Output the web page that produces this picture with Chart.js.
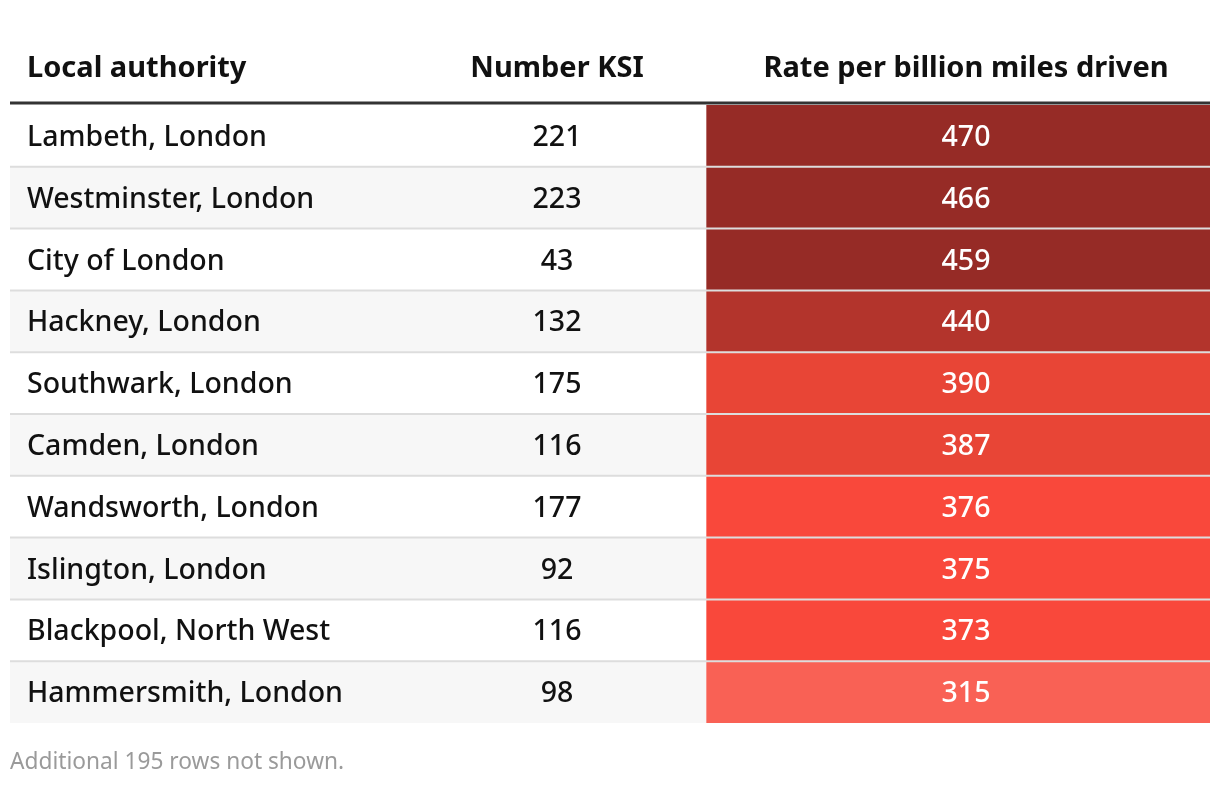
<!DOCTYPE html>
<html><head><meta charset="utf-8">
<script src="https://cdn.jsdelivr.net/npm/chart.js@4/dist/chart.umd.min.js"></script>
<style>html,body{margin:0;padding:0;background:#fff}canvas{display:block}</style>
</head><body>
<canvas id="c" width="1220" height="788"></canvas>
<script>
const headers = ["Local authority", "Number KSI", "Rate per billion miles driven"];
const authorities = ["Lambeth, London","Westminster, London","City of London","Hackney, London","Southwark, London","Camden, London","Wandsworth, London","Islington, London","Blackpool, North West","Hammersmith, London"];
const numberKSI = [221,223,43,132,175,116,177,92,116,98];
const rates = [470,466,459,440,390,387,376,375,373,315];
const footnote = "Additional 195 rows not shown.";

// layout (x scale units = pixels inside chart area)
const colEdges = [0, 398, 696, 1200];
function rateColor(v){
  if (v >= 450) return "#962b26";
  if (v >= 420) return "#b3342c";
  if (v >= 380) return "#e84536";
  if (v >= 350) return "#f9483b";
  return "#f96155";
}
const FONT = '"Noto Sans", "Open Sans", sans-serif';

const tablePlugin = {
  id: 'tableText',
  afterDatasetsDraw(chart){
    const ctx = chart.ctx, x = chart.scales.x, y = chart.scales.y, ca = chart.chartArea;
    const step = y.getPixelForValue(1) - y.getPixelForValue(0);
    ctx.save();
    // row separators
    ctx.strokeStyle = '#dddddd'; ctx.lineWidth = 2;
    for (let i = 0; i < authorities.length - 1; i++){
      const yy = y.getPixelForValue(i) + step/2;
      ctx.beginPath(); ctx.moveTo(ca.left, yy); ctx.lineTo(ca.right, yy); ctx.stroke();
    }
    // header rule
    ctx.strokeStyle = '#333333'; ctx.lineWidth = 3;
    ctx.beginPath(); ctx.moveTo(ca.left, ca.top - 2); ctx.lineTo(ca.right, ca.top - 2); ctx.stroke();

    const c1 = x.getPixelForValue(colEdges[0]) + 17;
    const c2 = (x.getPixelForValue(colEdges[1]) + x.getPixelForValue(colEdges[2]))/2;
    const c3 = (x.getPixelForValue(colEdges[2]) + x.getPixelForValue(colEdges[3]))/2 + 8;
    ctx.textBaseline = 'middle';
    // headers
    ctx.fillStyle = '#111';
    ctx.font = 'bold 29px ' + FONT;
    const hy = ca.top - 36;
    ctx.textAlign = 'left'; ctx.fillText(headers[0], c1, hy);
    ctx.textAlign = 'center'; ctx.fillText(headers[1], c2, hy);
    ctx.fillText(headers[2], c3, hy);
    // rows
    ctx.font = '500 28.5px ' + FONT;
    authorities.forEach((a, i) => {
      const yy = y.getPixelForValue(i) + 2;
      ctx.fillStyle = '#111';
      ctx.textAlign = 'left'; ctx.fillText(a, c1, yy);
      ctx.textAlign = 'center'; ctx.fillText(String(numberKSI[i]), c2, yy);
      ctx.fillStyle = '#ffffff';
      ctx.fillText(String(rates[i]), c3, yy);
    });
    // footnote
    ctx.fillStyle = '#9a9a9a';
    ctx.font = '22.7px ' + FONT;
    ctx.textAlign = 'left';
    ctx.fillText(footnote, ca.left, ca.bottom + 40);
    ctx.restore();
  }
};

new Chart(document.getElementById('c'), {
  type: 'bar',
  data: {
    labels: authorities,
    datasets: [
      {
        label: 'rows',
        data: authorities.map(() => [colEdges[0], colEdges[2]]),
        backgroundColor: authorities.map((_, i) => i % 2 ? '#f7f7f7' : '#ffffff'),
        barPercentage: 1, categoryPercentage: 1, grouped: false, borderWidth: 0
      },
      {
        label: headers[2],
        data: rates.map(() => [colEdges[2], colEdges[3]]),
        backgroundColor: rates.map(rateColor),
        barPercentage: 1, categoryPercentage: 1, grouped: false, borderWidth: 0
      }
    ]
  },
  options: {
    indexAxis: 'y',
    responsive: false,
    animation: false,
    layout: { padding: { left: 10, right: 10, top: 105, bottom: 65 } },
    scales: {
      x: { type: 'linear', min: colEdges[0], max: colEdges[3], display: false },
      y: { type: 'category', display: false, offset: true }
    },
    plugins: { legend: { display: false }, tooltip: { enabled: false } }
  },
  plugins: [tablePlugin]
});
</script>
</body></html>
